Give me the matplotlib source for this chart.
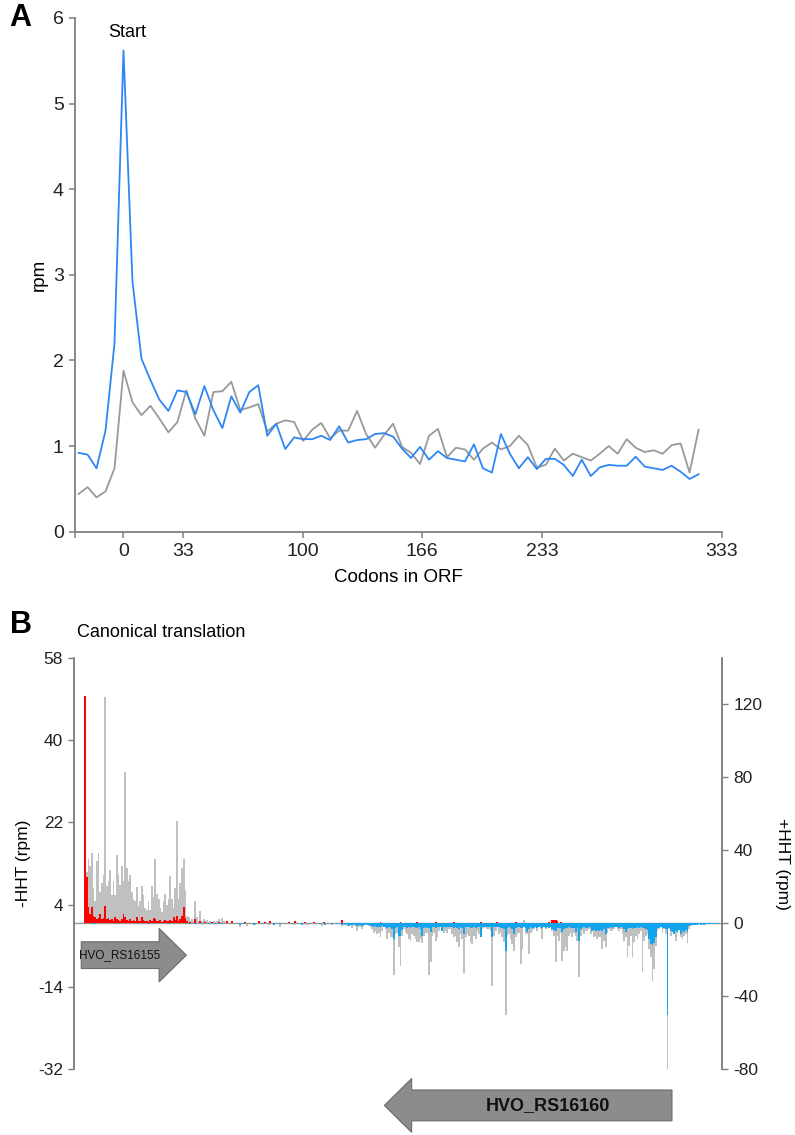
import numpy as np
import matplotlib.pyplot as plt
import matplotlib.transforms as mtransforms
from matplotlib.patches import FancyArrow

plt.rcParams['font.family'] = ['Liberation Sans', 'DejaVu Sans']
plt.rcParams['axes.unicode_minus'] = False

# ---------------- panel A: metagene profile around start codon
codons = np.arange(-25, 321, 5)
rpm_minus_hht = [0.92, 0.90, 0.74, 1.18, 2.20,
                 5.62, 2.92, 2.02, 1.77, 1.54, 1.41, 1.65, 1.63, 1.37, 1.70,
                 1.42, 1.21, 1.58, 1.39, 1.63, 1.71, 1.12, 1.26, 0.965, 1.10,
                 1.08, 1.08, 1.12, 1.07, 1.23, 1.04, 1.07, 1.08, 1.14, 1.15,
                 1.11, 0.97, 0.86, 0.99, 0.84, 0.94, 0.86, 0.84, 0.82, 1.02,
                 0.74, 0.69, 1.14, 0.91, 0.74, 0.87, 0.73, 0.85, 0.85, 0.78,
                 0.65, 0.84, 0.65, 0.75, 0.78, 0.77, 0.77, 0.875, 0.76, 0.74,
                 0.72, 0.77, 0.70, 0.615, 0.67]
rpm_plus_hht = [0.44, 0.52, 0.40, 0.47, 0.74,
                1.88, 1.51, 1.36, 1.47, 1.32, 1.16, 1.28, 1.65, 1.32, 1.12,
                1.63, 1.64, 1.75, 1.42, 1.45, 1.49, 1.17, 1.26, 1.30, 1.28,
                1.06, 1.19, 1.27, 1.09, 1.18, 1.18, 1.41, 1.14, 0.98, 1.13,
                1.26, 0.99, 0.92, 0.79, 1.12, 1.20, 0.87, 0.98, 0.96, 0.84,
                0.97, 1.04, 0.96, 1.00, 1.12, 1.01, 0.75, 0.78, 0.97, 0.83,
                0.91, 0.87, 0.83, 0.91, 1.00, 0.91, 1.08, 0.98, 0.93, 0.95,
                0.91, 1.01, 1.03, 0.69, 1.19]
a_xticks = [-27, 0, 33, 100, 166, 233, 333]
a_xticklabels = ['', '0', '33', '100', '166', '233', '333']

# ---------------- panel B: read coverage over two genes (3 nt bins)
bin_start = 20
bin_nt = 3
# +HHT coverage over HVO_RS16155 (bins 0..85)
plus_left = [32, 28, 35, 31, 38, 19, 12, 34, 38, 17,
             22, 26, 123.5, 20, 23, 29, 15, 23, 15, 37,
             27, 21, 31, 23, 82.7, 30, 23, 26, 17, 13,
             12, 19.6, 9, 12, 20, 15, 8, 7, 12, 7,
             20, 14, 34.8, 16, 13, 8, 6, 12, 16, 10,
             13, 25.6, 13, 8, 19, 55.5, 13, 22, 30, 34.8,
             18, 4, 3, 1, 2, 1, 12, 3, 1, 6.5,
             1, 2, 1, 1.5, 0.5, 1, 0.5, 1, 0.5, 1,
             2, 0.5, 2.5, 1, 0.5, 1]
# +HHT coverage (downward) over HVO_RS16160, from bin 154
right_first_bin = 154
plus_right = [1.6, 1.3, 1.0, 1.6, 0.8, 1.0, 3.0, 1.5, 1.6, 4.4,
              2.5, 2.0, 3.4, 1.6, 1.0, 1.3, 1.5, 2.5, 3.4, 5.3,
              4.4, 6.2, 5.3, 7.5, 4.4, 2.0, 3.4, 8.9, 5.3, 8.0,
              8.0, 28.5, 6.2, 5.3, 13.4, 23.8, 7.1, 3.4, 4.8, 6.2,
              8.9, 9.8, 6.2, 7.1, 8.9, 10.7, 10.7, 8.9, 11.0, 7.1,
              5.3, 5.3, 28.5, 21.6, 7.1, 5.3, 9.8, 8.0, 4.4, 1.6,
              3.4, 5.3, 4.4, 5.3, 3.4, 3.4, 6.2, 8.0, 7.1, 10.7,
              13.4, 6.2, 8.9, 27.4, 8.0, 6.2, 7.1, 10.7, 11.6, 7.1,
              8.9, 4.4, 6.2, 8.0, 3.4, 3.0, 2.5, 3.4, 3.4, 4.4,
              34.3, 7.1, 4.4, 1.6, 6.2, 5.0, 8.0, 10.7, 50.6, 7.1,
              6.2, 8.9, 11.6, 15.2, 8.0, 6.2, 5.3, 22.5, 14.3, 0,
              6.2, 6.2, 17.0, 5.3, 4.4, 3.4, 2.5, 4.4, 1.6, 3.4,
              8.9, 2.5, 3.4, 2.5, 2.0, 1.6, 4.4, 7.1, 21.6, 7.1,
              9.8, 5.3, 20.7, 15.2, 13.4, 15.2, 7.1, 5.3, 8.0, 5.3,
              7.1, 9.8, 29.8, 7.1, 4.4, 6.2, 4.4, 4.4, 3.4, 6.2,
              2.5, 8.0, 7.1, 8.9, 8.0, 8.0, 14.3, 9.8, 13.4, 5.3,
              3.4, 4.4, 4.4, 3.4, 2.5, 3.4, 4.4, 3.4, 6.2, 9.8,
              8.0, 18.9, 12.5, 7.1, 18.9, 10.7, 7.1, 8.9, 6.2, 4.4,
              27.0, 9.8, 7.1, 6.2, 14.3, 18.9, 31.6, 25.2, 12.5, 4.4,
              3.4, 2.5, 5.3, 3.4, 6.2, 80.0, 3.4, 7.1, 4.4, 6.2,
              9.8, 5.3, 3.4, 8.0, 8.9, 7.1, 6.2, 11.0, 3.4, 1.6,
              1.3, 1.0, 0.8, 0.5, 0.4, 0.5, 0.3, 0.4, 0, 0.3,
              0.3, 0, 0.3, 0, 0, 0.3]
# -HHT coverage (downward) over HVO_RS16160
minus_right = [0.4, 0.3, 0.5, 0.3, 0.6, 0.4, 0.5, 0.3, 0.4, 0.6,
               0.5, 0.4, 0.6, 0.5, 0.3, 0.4, 0.5, 0.6, 0.7, 0.8,
               0.7, 0.9, 0.8, 1.0, 0.7, 0.8, 1.0, 1.2, 1.0, 1.1,
               1.3, 3.6, 1.2, 1.0, 2.8, 2.9, 1.5, 0.8, 1.0, 1.2,
               1.0, 1.1, 0.9, 1.0, 1.2, 1.1, 1.0, 1.3, 2.8, 1.2,
               1.0, 1.1, 1.2, 2.1, 1.0, 0.9, 1.1, 1.0, 0.8, 0.9,
               1.75, 1.0, 0.9, 1.0, 0.8, 0.9, 1.0, 1.1, 1.0, 1.2,
               1.3, 1.0, 1.1, 2.5, 1.0, 0.9, 1.0, 1.1, 1.2, 1.0,
               1.1, 0.9, 1.0, 3.2, 0.9, 0.8, 0.9, 1.0, 0.9, 1.0,
               3.2, 1.0, 0.9, 0.8, 1.0, 1.1, 1.2, 1.3, 6.1, 1.2,
               1.0, 1.1, 1.3, 2.5, 1.1, 1.0, 0.9, 1.2, 1.1, 0.8,
               1.2, 2.1, 1.3, 1.0, 1.1, 1.2, 1.0, 1.1, 0.9, 1.0,
               1.2, 1.0, 1.1, 1.0, 1.2, 1.0, 1.3, 1.5, 1.7, 1.2,
               1.1, 1.2, 2.1, 1.3, 1.2, 1.1, 1.0, 1.1, 1.2, 1.1,
               2.1, 1.2, 3.9, 1.3, 1.1, 1.0, 1.1, 1.2, 1.0, 1.1,
               1.75, 1.5, 1.75, 1.6, 1.75, 1.5, 1.75, 1.3, 2.5, 1.2,
               1.1, 1.0, 1.1, 1.0, 0.9, 1.0, 1.1, 1.0, 1.2, 1.3,
               2.1, 1.3, 1.2, 1.1, 1.3, 1.2, 1.1, 1.0, 1.1, 1.0,
               1.2, 1.1, 1.3, 1.5, 3.5, 4.7, 4.8, 4.5, 3.0, 1.2,
               1.1, 1.0, 1.2, 1.1, 1.3, 20.1, 1.2, 1.75, 2.0, 2.5,
               1.75, 2.0, 1.5, 2.5, 1.75, 2.0, 1.5, 2.1, 0.6, 0.5,
               0.5, 0.4, 0.5, 0.4, 0.3, 0.4, 0.3, 0.4, 0.3, 0.3,
               0.3, 0.2, 0.3, 0.3, 0, 0.3]
# sparse bins (bin index, value)
minus_up_bins = [(0, 49.7), (1, 10), (2, 3.4), (3, 2.0), (4, 3.5), (5, 1.5), (6, 1.2),
                 (7, 0.8), (8, 1.0), (9, 2.0), (10, 0.8), (11, 1.0), (12, 3.7), (13, 0.8),
                 (14, 1.0), (15, 0.6), (16, 0.9), (17, 0.5), (18, 1.2), (19, 0.8), (20, 0.7),
                 (21, 0.5), (22, 0.8), (23, 2.0), (24, 1.2), (25, 0.6), (26, 0.5), (27, 0.8),
                 (28, 0.4), (29, 0.6), (30, 0.5), (31, 1.3), (32, 0.5), (33, 0.4), (34, 1.3),
                 (35, 0.6), (36, 0.4), (37, 0.5), (38, 0.3), (39, 0.6), (40, 0.5), (41, 1.0),
                 (42, 0.8), (43, 0.5), (44, 0.4), (45, 0.6), (46, 0.3), (47, 0.5), (48, 0.6),
                 (49, 0.4), (50, 0.5), (51, 0.7), (52, 0.4), (53, 1.2), (54, 0.6), (55, 1.5),
                 (56, 0.5), (57, 0.8), (58, 1.5), (59, 3.5), (60, 1.0), (61, 0.4), (63, 0.3),
                 (66, 0.9), (69, 0.4), (72, 0.3), (76, 0.3), (80, 0.3), (85, 0.4), (88, 0.5),
                 (96, 0.3), (104, 0.4), (108, 0.3), (111, 0.4), (122, 0.3), (126, 0.4),
                 (132, 0.3), (137, 0.3), (143, 0.3), (154, 0.65), (177, 0.3), (189, 0.3),
                 (199, 0.3), (210, 0.3), (221, 0.3), (237, 0.3), (247, 0.3), (258, 0.3),
                 (278, 0.3), (280, 0.6), (281, 0.7), (282, 0.7), (283, 0.5), (285, 0.3)]
minus_down_bins = [(5, 0.3), (6, 0.3), (20, 0.3), (32, 0.25), (38, 0.3), (50, 0.3), (62, 0.3),
                   (66, 0.3), (70, 0.3), (74, 0.3), (78, 0.3), (82, 0.3), (93, 0.4), (95, 0.3),
                   (101, 0.4), (106, 0.3), (113, 0.4), (117, 0.3), (124, 0.3), (130, 0.4),
                   (135, 0.3), (141, 0.3), (144, 0.4), (148, 0.3), (151, 0.3)]
plus_mid_bins = [(93, -2.5), (97, -1.5), (102, -1.0), (110, -1.0), (117, -2.0), (125, -1.2),
                 (133, -1.0), (142, -1.8), (148, -1.0), (263, 1.5)]

gene1 = ('HVO_RS16155', 13, 202)     # forward strand
gene2 = ('HVO_RS16160', 1075, 558)   # reverse strand


def to_nt(bins):
    return bin_start + bin_nt * np.asarray(bins)


fig = plt.figure(figsize=(7.95, 11.35), dpi=100)
spine_c = '#7f7f7f'
bw_nt = 3.4

# ---- A
ax = fig.add_axes([0.0943, 0.5316, 0.8138, 0.4526])
ax.plot(codons, rpm_plus_hht, color='#999999', lw=1.3)
ax.plot(codons, rpm_minus_hht, color='#2e86f5', lw=1.3)
ax.set_xlim(-27, 333)
ax.set_ylim(0, 6)
ax.set_xticks(a_xticks)
ax.set_xticklabels(a_xticklabels)
ax.set_yticks(range(7))
for s in ['top', 'right']:
    ax.spines[s].set_visible(False)
for s in ['left', 'bottom']:
    ax.spines[s].set_color(spine_c)
    ax.spines[s].set_linewidth(1.3)
ax.tick_params(colors='#222222', labelsize=14, length=4, width=1.1, color=spine_c, pad=4)
ax.set_xlabel('Codons in ORF', fontsize=13.5, labelpad=7)
ax.set_ylabel('rpm', fontsize=13.5, labelpad=4)
ax.text(2, 5.83, 'Start', ha='center', va='center', fontsize=13)
fig.text(0.012, 0.984, 'A', fontsize=22, fontweight='bold', va='center')

# ---- B
axl = fig.add_axes([0.0931, 0.05815, 0.8151, 0.3621])
axr = axl.twinx()
axl.set_zorder(axr.get_zorder() + 1)
axl.patch.set_visible(False)

axr.bar(to_nt(np.arange(len(plus_left))), plus_left, width=bw_nt, color='#c0c0c0', lw=0)
axr.bar(to_nt(right_first_bin + np.arange(len(plus_right))), -np.asarray(plus_right),
        width=bw_nt, color='#c0c0c0', lw=0)
mb, mv = zip(*plus_mid_bins)
axr.bar(to_nt(mb), mv, width=bw_nt, color='#c0c0c0', lw=0)

axl.axhline(0, color='#9a9a9a', lw=1.0, zorder=0.5)
ub, uv = zip(*minus_up_bins)
axl.bar(to_nt(ub), uv, width=bw_nt, color='#ff0000', lw=0)
db, dv = zip(*minus_down_bins)
axl.bar(to_nt(db), -np.asarray(dv), width=bw_nt, color='#12a4ec', lw=0)
axl.bar(to_nt(right_first_bin + np.arange(len(minus_right))), -np.asarray(minus_right),
        width=bw_nt, color='#12a4ec', lw=0)

axl.set_xlim(0, 1165)
axl.set_ylim(-32, 58)
axr.set_ylim(-80, 145)
axl.set_yticks([-32, -14, 4, 22, 40, 58])
axr.set_yticks([-80, -40, 0, 40, 80, 120])
axl.set_xticks([])
for a in (axl, axr):
    for s in ['top', 'bottom']:
        a.spines[s].set_visible(False)
    for s in ['left', 'right']:
        a.spines[s].set_color(spine_c)
        a.spines[s].set_linewidth(1.1)
    a.tick_params(colors='#222222', labelsize=12.5, length=4, width=1.0, color=spine_c, pad=4)
axl.set_ylabel('-HHT (rpm)', fontsize=12.5, labelpad=5)
axr.set_ylabel('+HHT (rpm)', fontsize=12.5, rotation=270, labelpad=20)

trans = mtransforms.blended_transform_factory(axl.transData, axl.transAxes)
for (name, start, end), yc, bw, hw, fs, fw, tx in [
        (gene1, 0.277, 0.065, 0.130, 8.5, 'normal', 82),
        (gene2, -0.0886, 0.075, 0.131, 13, 'bold', 852)]:
    arr = FancyArrow(start, yc, end - start, 0, width=bw, head_width=hw, head_length=49,
                     length_includes_head=True, transform=trans, clip_on=False,
                     facecolor='#8c8c8c', edgecolor='#6a6a6a', lw=0.8)
    axl.add_patch(arr)
    axl.text(tx, yc, name, transform=trans, ha='center', va='center',
             fontsize=fs, fontweight=fw, color='#111111', clip_on=False)

fig.text(0.097, 0.443, 'Canonical translation', fontsize=13, va='center')
fig.text(0.012, 0.449, 'B', fontsize=22, fontweight='bold', va='center')

fig.savefig('out.png', dpi=100)
